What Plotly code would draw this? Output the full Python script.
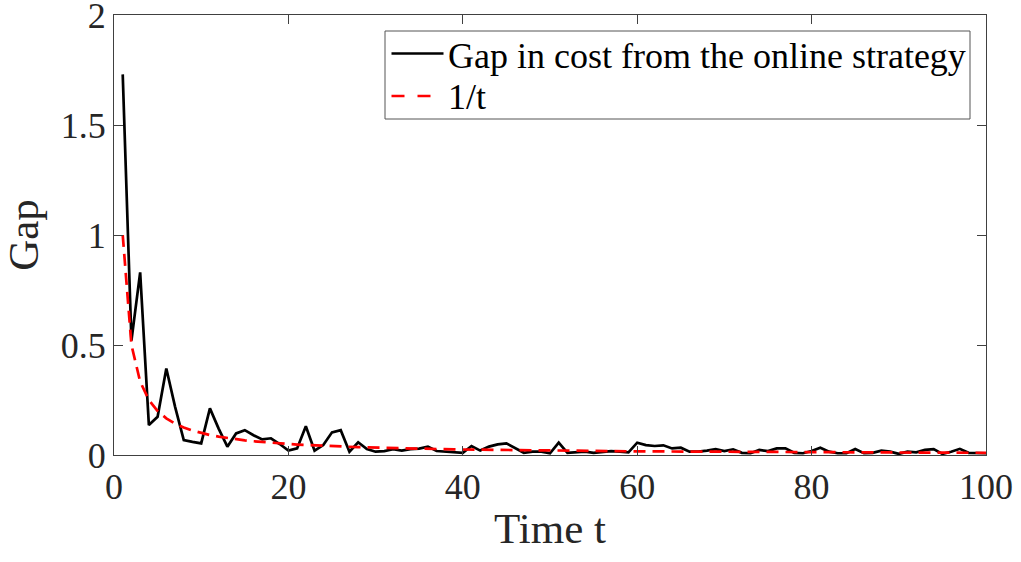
import plotly.graph_objects as go

# Time steps
t = list(range(1, 101))

# Gap in cost from the online strategy, per time step
gap = [
    1.73, 0.52, 0.83, 0.136, 0.174, 0.393, 0.22, 0.068, 0.06, 0.053,
    0.212, 0.12, 0.038, 0.098, 0.113, 0.09, 0.071, 0.076, 0.05, 0.02,
    0.03, 0.131, 0.02, 0.045, 0.103, 0.113, 0.015, 0.058, 0.027, 0.015,
    0.018, 0.026, 0.02, 0.027, 0.029, 0.038, 0.018, 0.015, 0.012, 0.01,
    0.041, 0.02, 0.038, 0.048, 0.053, 0.03, 0.01, 0.015, 0.015, 0.008,
    0.056, 0.01, 0.012, 0.015, 0.01, 0.015, 0.018, 0.015, 0.012, 0.056,
    0.045, 0.041, 0.044, 0.03, 0.033, 0.015, 0.015, 0.02, 0.027, 0.018,
    0.026, 0.01, 0.008, 0.023, 0.018, 0.03, 0.03, 0.01, 0.008, 0.018,
    0.033, 0.015, 0.008, 0.008, 0.027, 0.008, 0.01, 0.02, 0.015, 0.005,
    0.015, 0.012, 0.023, 0.027, 0.005, 0.015, 0.028, 0.01, 0.008, 0.008,
]

# Reference curve 1/t
ref = [
    1.0, 0.5, 0.3333, 0.25, 0.2, 0.1667, 0.1429, 0.125, 0.1111, 0.1,
    0.0909, 0.0833, 0.0769, 0.0714, 0.0667, 0.0625, 0.0588, 0.0556, 0.0526, 0.05,
    0.0476, 0.0455, 0.0435, 0.0417, 0.04, 0.0385, 0.037, 0.0357, 0.0345, 0.0333,
    0.0323, 0.0313, 0.0303, 0.0294, 0.0286, 0.0278, 0.027, 0.0263, 0.0256, 0.025,
    0.0244, 0.0238, 0.0233, 0.0227, 0.0222, 0.0217, 0.0213, 0.0208, 0.0204, 0.02,
    0.0196, 0.0192, 0.0189, 0.0185, 0.0182, 0.0179, 0.0175, 0.0172, 0.0169, 0.0167,
    0.0164, 0.0161, 0.0159, 0.0156, 0.0154, 0.0152, 0.0149, 0.0147, 0.0145, 0.0143,
    0.0141, 0.0139, 0.0137, 0.0135, 0.0133, 0.0132, 0.013, 0.0128, 0.0127, 0.0125,
    0.0123, 0.0122, 0.012, 0.0119, 0.0118, 0.0116, 0.0115, 0.0114, 0.0112, 0.0111,
    0.011, 0.0109, 0.0108, 0.0106, 0.0105, 0.0104, 0.0103, 0.0102, 0.0101, 0.01,
]

series_names = ["Gap in cost from the online strategy", "1/t"]

x_ticks = [0, 20, 40, 60, 80, 100]
y_ticks = [0, 0.5, 1, 1.5, 2]
y_tick_labels = ["0", "0.5", "1", "1.5", "2"]

FONT = "Liberation Serif, Times New Roman, serif"
AXIS_COLOR = "#404040"
TEXT_COLOR = "#262626"

W, H = 1021, 562
M_L, M_R, M_T, M_B = 114, 35, 15, 107
PLOT_W = W - M_L - M_R
PLOT_H = H - M_T - M_B

GAP_LINE = dict(color="black", width=2.7)
REF_LINE = dict(color="#ff0000", width=2.7, dash="12px,7px")

fig = go.Figure()
fig.add_trace(go.Scatter(x=t, y=gap, mode="lines", name=series_names[0],
                         line=GAP_LINE, showlegend=False))
fig.add_trace(go.Scatter(x=t, y=ref, mode="lines", name=series_names[1],
                         line=REF_LINE, showlegend=False))


def px(x):
    """Horizontal pixel position -> paper coordinate."""
    return (x - M_L) / PLOT_W


def py(y):
    """Vertical pixel position -> paper coordinate."""
    return (H - M_B - y) / PLOT_H


# Legend box drawn in the upper right corner of the axes
fig.add_shape(type="rect", xref="paper", yref="paper",
              x0=px(385), x1=px(970), y0=py(119), y1=py(31),
              line=dict(color="#555555", width=1), fillcolor="white", layer="above")

legend_rows = [
    (53.5, 55.5, dict(color="black", width=2.7)),
    (96, 97, dict(color="#ff0000", width=2.7, dash="13px,13px")),
]
for name, (line_y, text_y, style) in zip(series_names, legend_rows):
    fig.add_shape(type="line", xref="paper", yref="paper",
                  x0=px(391.5), x1=px(443.5), y0=py(line_y), y1=py(line_y),
                  line=style, layer="above")
    fig.add_annotation(xref="paper", yref="paper", x=px(446), y=py(text_y),
                       xanchor="left", yanchor="middle", showarrow=False,
                       text=name, font=dict(family=FONT, size=36, color="black"))

axis_common = dict(
    showline=True, linecolor=AXIS_COLOR, linewidth=1, mirror="ticks",
    ticks="inside", ticklen=9, tickwidth=1, tickcolor=AXIS_COLOR,
    showgrid=False, zeroline=False, ticklabeloverflow="allow",
    tickfont=dict(family=FONT, size=36, color=TEXT_COLOR),
)

fig.update_layout(
    width=W, height=H,
    margin=dict(l=M_L, r=M_R, t=M_T, b=M_B),
    paper_bgcolor="white", plot_bgcolor="white",
    font=dict(family=FONT, color=TEXT_COLOR),
    xaxis=dict(
        range=[0, 100], tickvals=x_ticks, automargin="bottom",
        title=dict(text="Time t", font=dict(family=FONT, size=43, color=TEXT_COLOR), standoff=6),
        **axis_common,
    ),
    yaxis=dict(
        range=[0, 2], tickvals=y_ticks, ticktext=y_tick_labels, automargin="left",
        title=dict(text="Gap", font=dict(family=FONT, size=43, color=TEXT_COLOR), standoff=8),
        **axis_common,
    ),
    showlegend=False,
)

fig.write_html("out.html")
